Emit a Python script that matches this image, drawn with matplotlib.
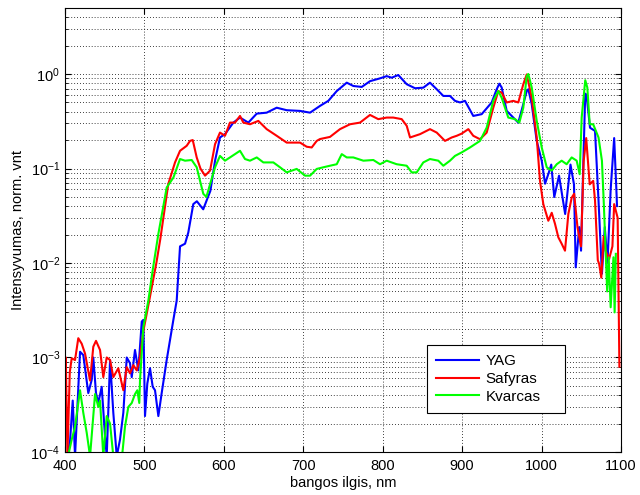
import matplotlib
matplotlib.use("Agg")
import matplotlib.pyplot as plt
from matplotlib.ticker import LogLocator, MultipleLocator, NullFormatter

plt.rcParams['font.family'] = ['Liberation Sans', 'DejaVu Sans']
plt.rcParams['mathtext.default'] = 'regular'

# YAG spectrum
yag_nm = [402.5, 406.3, 409.7, 412.6, 418.9, 423, 429.3, 433.6, 435.6, 439, 441.9, 446.2,
          450.4, 452.5, 456.7, 460.8, 465.1, 469.2, 473.4, 477.7, 481.8, 484, 488.1, 492.3,
          496.6, 498.6, 500.7, 503.6, 507, 510.4, 513.3, 517.5, 521.7, 528, 536.4, 540.6,
          544.8, 551.1, 555.2, 561.5, 566, 574, 580, 583, 588.9, 595.1, 601.4, 611.9, 620.3,
          630.8, 641.4, 653.9, 666.5, 679.1, 695.9, 708.5, 721.1, 731.5, 742.1, 754.7, 763,
          773.6, 784, 796.6, 805, 811.3, 819.6, 830.2, 840.7, 851.1, 859.5, 868, 876.3, 884.7,
          891, 897.3, 903.6, 914, 924.6, 937.2, 943.5, 946.8, 949.8, 956.1, 964.4, 970.7, 977,
          981.3, 983.3, 987.6, 993.9, 1000.2, 1004.4, 1009, 1012.2, 1016, 1022, 1029.7, 1036.4,
          1040.8, 1043, 1047.4, 1049.7, 1053.2, 1055, 1056.6, 1061, 1067.3, 1071.7, 1076,
          1079.6, 1083, 1087, 1091.4, 1094.4, 1095]
yag_val = [9e-5, 1.3e-4, 3.5e-4, 9e-5, 1.15e-3, 1.06e-3, 4.2e-4, 5.8e-4, 1.0e-3, 4.2e-4,
           3.3e-4, 4.9e-4, 1.45e-4, 9e-5, 9.4e-4, 2.6e-4, 9e-5, 1.35e-4, 2.6e-4, 1.0e-3, 8.7e-4,
           6.2e-4, 1.2e-3, 7.3e-4, 2.4e-3, 2.5e-3, 2.4e-4, 5.3e-4, 7.7e-4, 4.9e-4, 4.5e-4,
           2.4e-4, 4.2e-4, 9.4e-4, 2.5e-3, 4.0e-3, 0.015, 0.016, 0.021, 0.042, 0.045, 0.037,
           0.05, 0.058, 0.121, 0.213, 0.231, 0.306, 0.346, 0.306, 0.381, 0.39, 0.44, 0.414,
           0.407, 0.39, 0.46, 0.52, 0.66, 0.81, 0.747, 0.73, 0.84, 0.90, 0.95, 0.914, 0.976,
           0.78, 0.707, 0.717, 0.81, 0.69, 0.586, 0.586, 0.52, 0.50, 0.52, 0.36, 0.376, 0.50,
           0.69, 0.79, 0.72, 0.407, 0.346, 0.306, 0.48, 0.66, 0.69, 0.48, 0.196, 0.121, 0.069,
           0.09, 0.11, 0.05, 0.084, 0.033, 0.11, 0.068, 9e-3, 0.024, 0.0135, 0.18, 0.62, 0.6,
           0.27, 0.25, 0.046, 7.7e-3, 0.024, 0.01, 0.06, 0.21, 0.054, 0.04]

# sapphire spectrum
saf_nm = [400, 401, 403, 406, 408.4, 412.6, 416.7, 421, 425.2, 431.5, 435.6, 439, 444.1,
          448.2, 452.5, 456.7, 460.8, 467.1, 473.4, 477.7, 481.8, 486, 490.3, 494.4, 498.6,
          505, 510, 515, 520, 530, 538.5, 544.8, 553.2, 557.4, 560.8, 565.8, 570.5, 576.3,
          582.6, 588.9, 595.1, 601.4, 607.7, 614, 620.3, 624.5, 632.9, 643.4, 653.9, 666.5,
          679.1, 695.9, 704.3, 710.6, 716.9, 721, 733.6, 746.2, 758.8, 771.4, 784, 794.4, 805,
          813.3, 823.9, 830.2, 834.4, 847, 859.5, 868, 878.4, 886.9, 893.2, 899.4, 907.8, 914,
          922.5, 930.9, 939.2, 945.5, 949.8, 956.1, 964.4, 970.7, 977, 981.3, 987.6, 993.9,
          998, 1002.2, 1008.5, 1012.8, 1016.9, 1021.1, 1025.3, 1029.5, 1033.7, 1037.9, 1041,
          1045.2, 1049.7, 1053, 1056.2, 1060.6, 1065, 1067.3, 1070.8, 1072.5, 1075.2, 1078.2,
          1080.5, 1085, 1089.2, 1091.4, 1095.8, 1098]
saf_val = [2.6e-4, 1.0e-3, 9e-5, 7e-4, 9.8e-4, 9.4e-4, 1.6e-3, 1.4e-3, 1.1e-3, 5.7e-4,
           1.3e-3, 1.5e-3, 1.2e-3, 6.2e-4, 1.0e-3, 9.4e-4, 6.2e-4, 7.7e-4, 4.5e-4, 7.9e-4,
           6.8e-4, 8.3e-4, 7.3e-4, 1.0e-3, 1.9e-3, 3.6e-3, 6e-3, 1.0e-2, 1.8e-2, 0.0685, 0.116,
           0.154, 0.174, 0.196, 0.2, 0.131, 0.1, 0.084, 0.095, 0.181, 0.24, 0.222, 0.306, 0.306,
           0.36, 0.306, 0.294, 0.319, 0.261, 0.222, 0.188, 0.188, 0.17, 0.167, 0.196, 0.205,
           0.216, 0.261, 0.294, 0.306, 0.369, 0.333, 0.346, 0.346, 0.333, 0.283, 0.213, 0.231,
           0.261, 0.24, 0.196, 0.213, 0.222, 0.234, 0.261, 0.222, 0.204, 0.24, 0.44, 0.66,
           0.635, 0.5, 0.52, 0.5, 0.78, 0.99, 0.56, 0.213, 0.074, 0.042, 0.028, 0.034, 0.026,
           0.0187, 0.016, 0.0135, 0.033, 0.049, 0.054, 0.024, 0.015, 0.12, 0.21, 0.068, 0.074,
           0.046, 0.0107, 9.8e-3, 7e-3, 0.019, 0.0135, 0.011, 0.015, 0.042, 0.03, 8e-4]

# quartz spectrum
kva_nm = [403.8, 408.4, 412.6, 418.9, 423, 427.3, 431.5, 437.8, 441.9, 444.1, 448.2, 452.5,
          456.7, 460.8, 471.8, 475.5, 479.7, 484, 488.1, 491, 493.5, 494.4, 498.6, 504.9, 510,
          517.5, 528, 536.4, 544.8, 551.1, 559.5, 565.8, 570, 574.1, 578, 583, 588.9, 595.1,
          601.4, 607.7, 614, 620.3, 626.6, 632.9, 641.4, 649.7, 662.3, 670.7, 679.1, 691.7,
          702.2, 708.5, 716.9, 725.2, 733.6, 742.1, 748.4, 754.7, 763, 775.6, 788.2, 796.6,
          805, 817.6, 830.2, 836.5, 842.8, 851.1, 859.5, 870, 876.3, 884.7, 891, 899.4, 909.9,
          922.5, 930.9, 939.2, 945.5, 949.8, 958.1, 966.6, 972, 977, 981.3, 983.3, 987.6,
          993.9, 1000.2, 1006.5, 1012.8, 1019.1, 1025.3, 1031.6, 1037.9, 1044.2, 1048, 1050.5,
          1055, 1057.6, 1060.6, 1065, 1071.7, 1076, 1078.5, 1082.6, 1084.5, 1087, 1090.5,
          1092, 1093.5]
kva_val = [9e-5, 1.35e-4, 1.85e-4, 4.5e-4, 2.6e-4, 1.6e-4, 9e-5, 4.1e-4, 3e-4, 3.5e-4,
           9e-5, 2.4e-4, 2e-4, 9e-5, 9e-5, 1.85e-4, 3e-4, 3.3e-4, 4.1e-4, 4.5e-4, 3.3e-4,
           5.7e-4, 2.1e-3, 4e-3, 8e-3, 0.0203, 0.063, 0.08, 0.126, 0.121, 0.123, 0.103, 0.074,
           0.054, 0.05, 0.07, 0.103, 0.136, 0.121, 0.131, 0.142, 0.154, 0.126, 0.121, 0.131,
           0.116, 0.116, 0.103, 0.091, 0.099, 0.084, 0.084, 0.099, 0.103, 0.107, 0.111, 0.142,
           0.131, 0.131, 0.121, 0.123, 0.111, 0.121, 0.111, 0.107, 0.091, 0.091, 0.116, 0.126,
           0.121, 0.107, 0.121, 0.136, 0.148, 0.167, 0.196, 0.271, 0.52, 0.66, 0.56, 0.346,
           0.333, 0.306, 0.44, 0.95, 1.0, 0.72, 0.32, 0.167, 0.103, 0.095, 0.111, 0.121, 0.111,
           0.131, 0.121, 0.087, 0.346, 0.86, 0.72, 0.294, 0.294, 0.213, 0.121, 0.04, 5e-3,
           0.0115, 3.4e-3, 0.0115, 3e-3, 0.0125]

fig = plt.figure(figsize=(6.4, 4.95), dpi=100)
ax = fig.add_axes([0.1016, 0.0869, 0.8687, 0.897])

ax.semilogy(yag_nm, yag_val, color=(0, 0, 1), lw=1.5, label='YAG')
ax.semilogy(saf_nm, saf_val, color=(1, 0, 0), lw=1.5, label='Safyras')
ax.semilogy(kva_nm, kva_val, color=(0, 1, 0), lw=1.5, label='Kvarcas')

ax.set_xlim(400, 1100)
ax.set_ylim(1e-4, 5)
ax.xaxis.set_major_locator(MultipleLocator(100))
ax.yaxis.set_major_locator(LogLocator(base=10, numticks=10))
ax.yaxis.set_minor_locator(LogLocator(base=10, subs=range(2, 10), numticks=20))
ax.yaxis.set_minor_formatter(NullFormatter())

# dotted matlab-like grid
dots = (0, (1, 2.5))
ax.grid(True, which='major', ls=dots, color='k', lw=0.6)
ax.yaxis.grid(True, which='minor', ls=dots, color='k', lw=0.6)
ax.tick_params(which='both', direction='in', top=True, right=True, labelsize=10.5)
ax.tick_params(which='major', length=4)
ax.tick_params(which='minor', length=2)
ax.tick_params(axis='x', pad=5)
for s in ax.spines.values():
    s.set_linewidth(0.8)

ax.set_xlabel('bangos ilgis, nm', fontsize=10.5, labelpad=2)
ax.set_ylabel('Intensyvumas, norm. vnt', fontsize=10.5, labelpad=4)

leg = ax.legend(loc='lower left', bbox_to_anchor=(0.651, 0.088, 0.248, 0.164),
                mode='expand', fontsize=11, fancybox=False, edgecolor='k',
                framealpha=1, handlelength=2.8, handletextpad=0.45,
                borderpad=0.6, labelspacing=0.25, borderaxespad=0)
leg.get_frame().set_linewidth(0.8)

fig.savefig('out.png', dpi=100)
